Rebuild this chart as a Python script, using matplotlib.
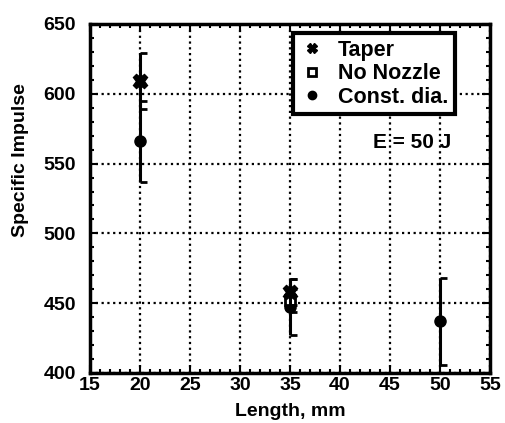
import matplotlib

matplotlib.use("Agg")
import matplotlib.pyplot as plt
from matplotlib.lines import Line2D
from matplotlib.path import Path
from matplotlib.ticker import MultipleLocator

# Specific impulse vs. chamber length at E = 50 J
taper_len = [20, 35]
taper_isp = [609, 458]
taper_err = [20, 9]

nozzle_len = [35]
nozzle_isp = [452]
nozzle_err = [8]

const_len = [20, 35, 50]
const_isp = [566, 447, 437]
const_err = [29, 20, 31]

plt.rcParams["font.family"] = ["Liberation Sans", "DejaVu Sans"]
plt.rcParams["font.weight"] = "bold"

fig = plt.figure(figsize=(5.05, 4.23), dpi=100)
ax = fig.add_axes([90 / 505, 1 - 373 / 423, 400 / 505, 349 / 423])

# one-sided cap: short tick to the right of the bar
half_cap = Path([(0, 0), (1, 0)], [Path.MOVETO, Path.LINETO])


def draw_series(xs, ys, errs, fmt, z, **mkw):
    lo = [y - e for y, e in zip(ys, errs)]
    hi = [y + e for y, e in zip(ys, errs)]
    ax.vlines(xs, lo, hi, color="black", linewidth=2.2, zorder=z)
    ax.plot(xs, lo, linestyle="none", marker=half_cap, markersize=10,
            markeredgewidth=2, color="black", zorder=z)
    ax.plot(xs, hi, linestyle="none", marker=half_cap, markersize=10,
            markeredgewidth=2, color="black", zorder=z)
    ax.plot(xs, ys, fmt, color="black", zorder=z + 0.5, **mkw)


draw_series(const_len, const_isp, const_err, "o", 3, markersize=8)
draw_series(nozzle_len, nozzle_isp, nozzle_err, "s", 4,
            markerfacecolor="white", markeredgewidth=2, markersize=7)
draw_series(taper_len, taper_isp, taper_err, "X", 5, markersize=10.5)

ax.set_xlim(15, 55)
ax.set_ylim(400, 650)
ax.xaxis.set_major_locator(MultipleLocator(5))
ax.xaxis.set_minor_locator(MultipleLocator(1))
ax.yaxis.set_major_locator(MultipleLocator(50))
ax.yaxis.set_minor_locator(MultipleLocator(10))
ax.tick_params(which="both", direction="in", top=True, right=True,
               labelsize=14, width=1.5)
ax.tick_params(axis="y", pad=10)
ax.tick_params(axis="x", pad=3)
ax.tick_params(which="major", length=6)
ax.tick_params(which="minor", length=3)
for lab in ax.get_xticklabels() + ax.get_yticklabels():
    lab.set_fontweight("bold")
for sp in ax.spines.values():
    sp.set_linewidth(2.5)

ax.grid(True, which="major", color="black", linestyle=(0, (1, 1.6)), linewidth=1.6)
ax.set_axisbelow(True)

ax.set_xlabel("Length, mm", fontsize=14, fontweight="bold", labelpad=6)
ax.set_ylabel("Specific Impulse", fontsize=14, fontweight="bold")
ax.yaxis.set_label_coords(-0.152, 0.61)

handles = [
    Line2D([], [], linestyle="none", marker="X", color="black", markersize=7),
    Line2D([], [], linestyle="none", marker="s", color="black",
           markerfacecolor="white", markeredgewidth=2, markersize=6),
    Line2D([], [], linestyle="none", marker="o", color="black", markersize=6),
]
leg = ax.legend(handles, ["Taper", "No Nozzle", "Const. dia."], loc="upper left",
                bbox_to_anchor=(0.507, 0.974), frameon=True, fancybox=False,
                fontsize=15.5, handletextpad=0.6, borderpad=0.3,
                labelspacing=0.12, handlelength=1.2, borderaxespad=0)
leg.get_frame().set_edgecolor("black")
leg.get_frame().set_linewidth(3)
leg.get_frame().set_alpha(1)
for t in leg.get_texts():
    t.set_fontweight("bold")

ax.text(47.2, 565, "E = 50 J", fontsize=15, fontweight="bold", ha="center", va="center")

fig.savefig("out.png", dpi=100)
